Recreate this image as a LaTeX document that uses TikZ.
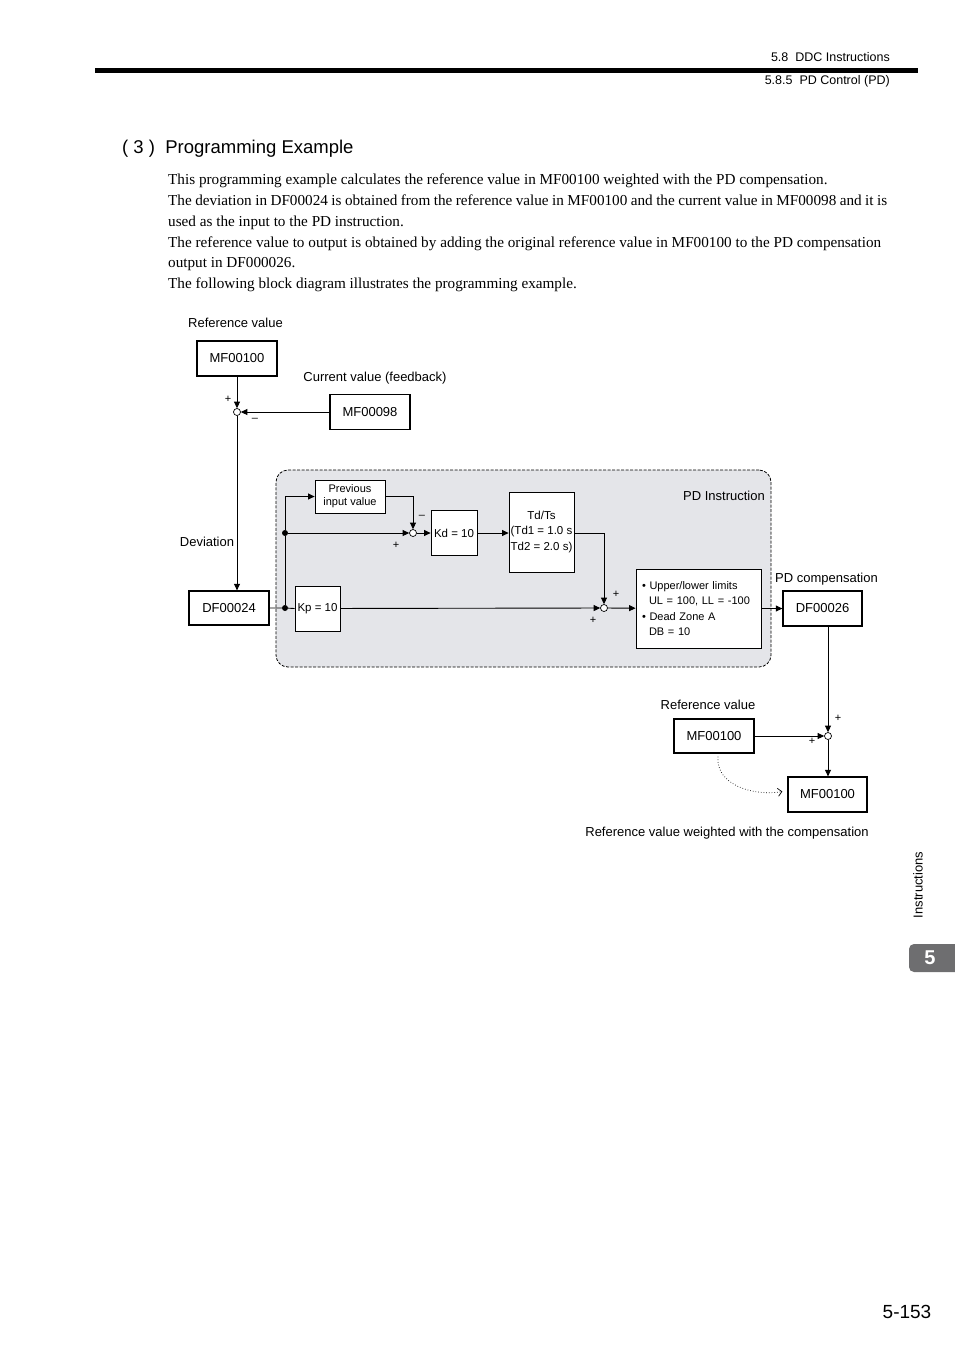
\documentclass[tikz,border=0pt]{standalone}
\usepackage{fontspec}
\setmainfont{Liberation Serif}
\setsansfont{Liberation Sans}
\usetikzlibrary{arrows.meta,calc}
\definecolor{regfill}{RGB}{228,229,233}
\definecolor{tabgray}{RGB}{110,110,112}
\begin{document}
\begin{tikzpicture}[x=1pt,y=-1pt,
  lab/.style={font=\sffamily\fontsize{13}{15}\selectfont, inner sep=0pt, anchor=base},
  sml/.style={font=\sffamily\fontsize{11}{12}\selectfont, inner sep=0pt},
  body/.style={font=\rmfamily\fontsize{15.2}{18}\selectfont, inner sep=0pt, anchor=base west},
  obox/.style={draw, line width=1.3pt, minimum width=80pt, minimum height=35pt, inner sep=0pt, font=\sffamily\fontsize{13}{15}\selectfont, fill=white},
  ibox/.style={draw, line width=0.8pt, inner sep=0pt, fill=white, font=\sffamily\fontsize{11.5}{15.5}\selectfont, align=center},
  sumj/.style={circle, draw, line width=0.7pt, minimum size=7pt, inner sep=0pt, fill=white},
  dotj/.style={circle, fill, minimum size=6pt, inner sep=0pt},
  conn/.style={line width=0.9pt},
  arr/.style={line width=0.9pt, -{Triangle[length=6.5pt,width=6pt]}}
]
\useasboundingbox (0,0) rectangle (954,1350);

% header
\node[font=\sffamily\fontsize{12.5}{14}\selectfont, inner sep=0pt, anchor=base east] (h1) at (890,61.5) {5.8\ \ DDC Instructions};
\node[font=\sffamily\fontsize{12.5}{14}\selectfont, inner sep=0pt, anchor=base east] (h2) at (890,84.5) {5.8.5\ \ PD Control (PD)};
\fill (95,68) rectangle (918,73);

% heading
\node[font=\sffamily\fontsize{18.5}{21}\selectfont, inner sep=0pt, anchor=base west] (hd) at (122,153) {( 3 )\ \ Programming Example};

% body text
\node[body] (t1) at (168,184) {This programming example calculates the reference value in MF00100 weighted with the PD compensation.};
\node[body] (t2) at (168,205) {\makebox[719pt][s]{The deviation in DF00024 is obtained from the reference value in MF00100 and the current value in MF00098 and it is}};
\node[body] (t3) at (168,226) {used as the input to the PD instruction.};
\node[body] (t4) at (168,247) {\makebox[713pt][s]{The reference value to output is obtained by adding the original reference value in MF00100 to the PD compensation}};
\node[body] (t5) at (168,267) {output in DF000026.};
\node[body] (t6) at (168,288) {The following block diagram illustrates the programming example.};

% PD region
\node[draw, dashed, dash pattern=on 3pt off 1.5pt, line width=0.8pt, fill=regfill, rounded corners=12pt, minimum width=495pt, minimum height=197pt, inner sep=0pt] (pdreg) at (523.5,568.5) {};

% boxes
\node[obox] (mfa) at (237,358.5) {MF00100};
\node[sumj] (s1) at (237,412) {};
\node[obox] (mf98) at (370,412) {MF00098};
\node[obox, minimum height=34pt] (df24) at (229,608) {DF00024};

\node[dotj] (d1) at (285,608) {};
\node[dotj] (d2) at (285,533) {};
\node[ibox, minimum width=70pt, minimum height=33pt, font=\sffamily\fontsize{11}{13}\selectfont] (prev) at (350,496.5) {Previous\\input value};
\node[sumj] (s2) at (413,533) {};
\node[ibox, minimum width=46pt, minimum height=45pt] (kd) at (454,533) {Kd = 10};
\node[ibox, minimum width=65pt, minimum height=80pt] (td) at (541.5,532) {Td/Ts\\(Td1 = 1.0 s\\Td2 = 2.0 s)};
\node[ibox, minimum width=45pt, minimum height=45pt] (kp) at (317.5,608.5) {Kp = 10};
\node[sumj] (s3) at (604,608) {};
\node[ibox, minimum height=79pt, text width=113pt, inner xsep=6pt, align=left, font=\sffamily\fontsize{11}{15.3}\selectfont] (lim) at (698.5,608.5) {\textbullet\ Upper/lower limits\\\hspace*{7pt}UL = 100, LL = -100\\\textbullet\ Dead Zone A\\\hspace*{7pt}DB = 10};
\node[obox, minimum width=79pt] (df26) at (822.5,608.5) {DF00026};

\node[sumj] (s4) at (828,736) {};
\node[obox, minimum height=34pt] (mfr) at (714,736) {MF00100};
\node[obox, minimum width=79pt] (mfo) at (827.5,794.5) {MF00100};

% connectors
\draw[arr] (mfa) -- (s1);
\draw[arr] (mf98) -- (s1);
\draw[arr] (s1) -- (s1 |- df24.north);
\draw[conn] (df24.east) -- (d1) -- (kp.west);
\draw[conn] (d1) -- (d2);
\draw[arr] (d2) |- (prev.west);
\draw[arr] (d2) -- (s2);
\draw[arr] (prev.east) -| (s2.north);
\draw[arr] (s2) -- (kd);
\draw[arr] (kd) -- (kd -| td.west);
\draw[arr] (td.east |- s2) -| (s3.north);
\draw[arr] (kp) -- (s3);
\draw[arr] (s3) -- (lim);
\draw[arr] (lim) -- (lim -| df26.west);
\draw[arr] (s4 |- df26.south) -- (s4);
\draw[arr] (mfr) -- (s4);
\draw[arr] (s4) -- (s4 |- mfo.north);
\draw[line width=0.7pt, dotted, -{Straight Barb[length=4pt,width=8pt]}] ([xshift=4pt,yshift=-3pt]mfr.south) to[out=-95,in=190] ([xshift=-5pt,yshift=3pt]mfo.west);

% labels
\node[lab] (l1) at (235.5,327.5) {Reference value};
\node[lab] (l2) at (375,381.5) {Current value (feedback)};
\node[lab] (l3) at (207,546.5) {Deviation};
\node[lab] (l4) at (724,500.5) {PD Instruction};
\node[lab] (l5) at (826.5,582.5) {PD compensation};
\node[lab] (l6) at (708,709.5) {Reference value};
\node[lab] (l7) at (727,836.5) {Reference value weighted with the compensation};

% signs
\node[sml] (p1) at (228,399) {+};
\node[sml] (m1) at (255,420) {\textendash};
\node[sml] (m2) at (422,517) {\textendash};
\node[sml] (p2) at (396,545) {+};
\node[sml] (p3) at (616,594) {+};
\node[sml] (p4) at (593,620) {+};
\node[sml] (p5) at (838,718) {+};
\node[sml] (p6) at (812,741) {+};

% side tab
\node[font=\sffamily\fontsize{13}{15}\selectfont, inner sep=0pt, rotate=90] (side) at (918,885) {Instructions};
\fill[tabgray, rounded corners=5pt] (909,944) rectangle (966,972);
\node[font=\sffamily\bfseries\fontsize{20}{22}\selectfont, text=white, inner sep=0pt] (tab5) at (930,958) {5};

% page number
\node[font=\sffamily\fontsize{19}{22}\selectfont, inner sep=0pt] (pg) at (907,1312) {5-153};
\end{tikzpicture}
\end{document}
